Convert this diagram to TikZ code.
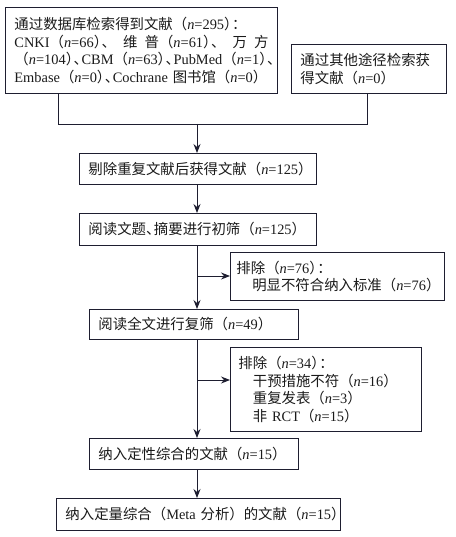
\documentclass[tikz,border=0pt]{standalone}
\usepackage{fontspec}
\setmainfont{Noto Sans CJK SC}
\newfontfamily\lat{Liberation Serif}
\usetikzlibrary{arrows.meta}
\definecolor{lncol}{HTML}{1E1E30}
\definecolor{txcol}{HTML}{1A1A1A}
\newcommand\nv[1]{{\lat\textit{n}=#1}}
\newcommand\la[1]{{\lat #1}}
\newcommand\sq{\kern-.45em}
\begin{document}
\begin{tikzpicture}[x=1pt,y=-1pt,
  box/.style={draw=lncol, line width=0.9pt, anchor=north west, align=left,
    inner xsep=9pt, inner ysep=0pt, text=txcol,
    font=\fontsize{14.4}{17.7}\selectfont},
  conn/.style={draw=lncol, line width=0.9pt},
  arr/.style={conn, -{Stealth[length=9pt,width=7pt,inset=3pt]}}]
\useasboundingbox (0,0) rectangle (455,537);

\node[box, minimum width=272pt, minimum height=86pt, text width=254pt] (db) at (5,7)
  {通过数据库检索得到文献（\nv{295}）\sq：\\
   \makebox[254pt][s]{\la{CNKI}（\nv{66}）\sq、\hfill 维\hfill 普（\nv{61}）\sq、\hfill 万\hfill 方}\\
   \makebox[254pt][s]{（\nv{104}）\sq、\sq\hfil\la{CBM}（\nv{63}）\sq、\sq\hfil\la{PubMed}（\nv{1}）\sq、\sq}\\
   \la{Embase}（\nv{0}）\sq、\sq\la{Cochrane}~图书馆（\nv{0}）};

\node[box, minimum width=155pt, minimum height=49pt, text width=137pt] (other) at (291,44)
  {通过其他途径检索获\\得文献（\nv{0}）};

\node[box, minimum width=237pt, minimum height=31pt, text width=219pt] (dedup) at (79,153)
  {剔除重复文献后获得文献（\nv{125}）};

\node[box, minimum width=237pt, minimum height=32pt, text width=219pt] (title) at (79,213)
  {阅读文题、\sq 摘要进行初筛（\nv{125}）};

\node[box, inner xsep=6pt, minimum width=214pt, minimum height=48pt, text width=202pt] (ex1) at (230,252)
  {排除（\nv{76}）\sq：\\
   \hspace*{1.1em}明显不符合纳入标准（\nv{76}）};

\node[box, minimum width=209pt, minimum height=30pt, text width=191pt] (full) at (89,309)
  {阅读全文进行复筛（\nv{49}）};

\node[box, inner xsep=8pt, minimum width=191pt, minimum height=84pt, text width=175pt] (ex2) at (230,347)
  {排除（\nv{34}）\sq：\\
   \hspace*{1em}干预措施不符（\nv{16}）\\
   \hspace*{1em}重复发表（\nv{3}）\\
   \hspace*{1em}非~\la{RCT}（\nv{15}）};

\node[box, minimum width=209pt, minimum height=31pt, text width=191pt] (qual) at (89,438)
  {纳入定性综合的文献（\nv{15}）};

\node[box, minimum width=284pt, minimum height=32pt, text width=266pt] (quant) at (56,498)
  {纳入定量综合（\la{Meta}~分析）的文献（\nv{15}）};

\coordinate (L) at (58,124);
\coordinate (R) at (367,124);
\coordinate (M) at (197,124);
\coordinate (E1) at (197,276);
\coordinate (E2) at (197,380);

\draw[conn] (db.south -| L) -- (L) -- (R) -- (other.south -| R);
\draw[arr] (M) -- (dedup.north -| M);
\draw[arr] (dedup.south -| M) -- (title.north -| M);
\draw[arr] (title.south -| M) -- (full.north -| M);
\draw[arr] (E1) -- (ex1.west |- E1);
\draw[arr] (full.south -| M) -- (qual.north -| M);
\draw[arr] (E2) -- (ex2.west |- E2);
\draw[arr] (qual.south -| M) -- (quant.north -| M);
\end{tikzpicture}
\end{document}
